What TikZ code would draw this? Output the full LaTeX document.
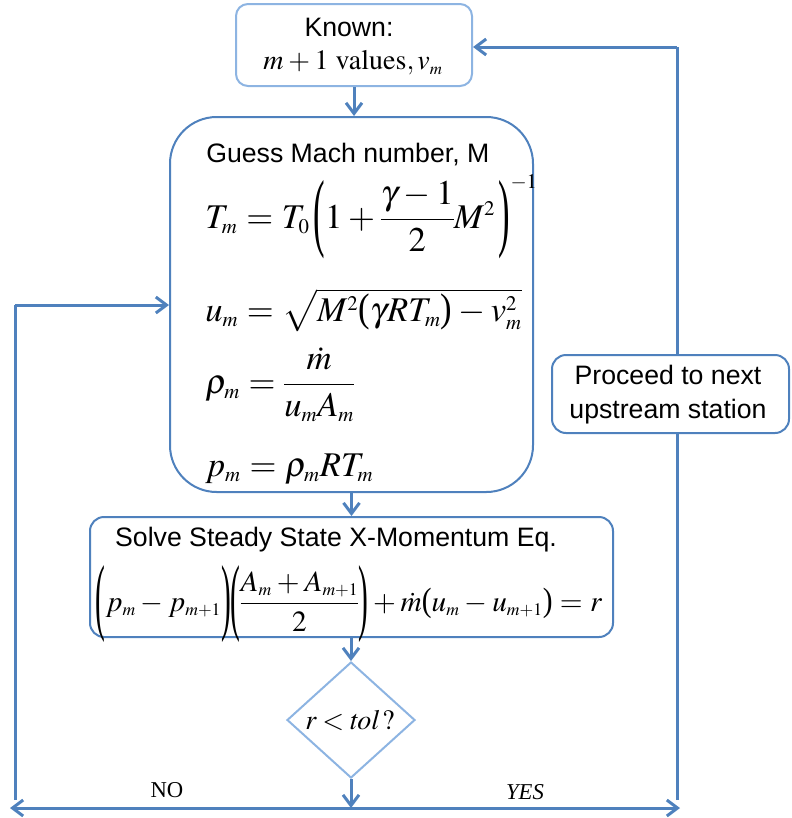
\documentclass[tikz,border=0pt]{standalone}
\usepackage{amsmath}
\usepackage{graphicx}
\usepackage{mathptmx}
\usepackage[no-math]{fontspec}
\setmainfont{Liberation Serif}
\newfontfamily\arial{Liberation Sans}
\DeclareMathSizes{26}{26}{15.6}{12}
\DeclareMathSizes{22}{22}{13.2}{10}
\DeclareMathSizes{21}{21}{12.6}{10}
\newcommand{\tightmath}{\thinmuskip=2mu\relax\medmuskip=3mu\relax\thickmuskip=4.5mu\relax\nulldelimiterspace=0pt\relax}
\newcommand{\lp}[1]{\mathopen{\vcenter{\hbox{\scalebox{1}[#1]{(}}}}}
\newcommand{\rp}[1]{\mathclose{\vcenter{\hbox{\scalebox{1}[#1]{)}}}}}
\usetikzlibrary{arrows.meta,shapes.geometric}
\definecolor{lineblue}{RGB}{79,129,189}
\definecolor{lightblue}{RGB}{141,180,226}
\begin{document}
\begin{tikzpicture}[x=0.75pt,y=-0.75pt,
  box/.style={draw=lineblue, line width=1.5pt, fill=white, inner sep=0pt},
  lbox/.style={draw=lightblue, line width=1.5pt, fill=white, inner sep=0pt},
  conn/.style={draw=lineblue, line width=2.25pt, -{Straight Barb[length=8pt,width=12pt]}},
  plainline/.style={draw=lineblue, line width=2.25pt},
  sans/.style={font=\arial\fontsize{20}{24}\selectfont, inner sep=0pt},
  eq/.style={font=\fontsize{26}{30}\selectfont\tightmath, inner sep=0pt},
  eqm/.style={font=\fontsize{22}{26}\selectfont\tightmath, inner sep=0pt},
  eqs/.style={font=\fontsize{21}{25}\selectfont\tightmath, inner sep=0pt},
  lbl/.style={font=\fontsize{17}{20}\selectfont, inner sep=0pt},
]
\useasboundingbox (0,0) rectangle (792,818);

% top box
\node[lbox, rounded corners=9pt, minimum width=177pt, minimum height=61.5pt] (known) at (354,45) {};
\node[sans] (knownt) at (349,27) {Known:};
\node[eqs] (knownm) at (353,63) {$m+1\ \mathrm{values}, v_m$};

% big box
\node[box, rounded corners=35pt, minimum width=272.25pt, minimum height=281.25pt] (big) at (351.5,304.5) {};
\node[sans, anchor=base west] (guess) at (206,162) {Guess Mach number, M};
\node[eq, anchor=base west] (teq) at (205,228) {$T_m = T_0\,\lp{2.5}1+\dfrac{\gamma-1}{2}M^2\,\rp{2.5}^{-1}$};
\node[eq, anchor=base west] (ueq) at (205,321) {$u_m = \sqrt{M^2\lp{1.15}\gamma R T_m\rp{1.15}-v_m^2}$};
\node[eq, anchor=base west] (req) at (205,393) {$\rho_m = \dfrac{\dot m}{u_m A_m}$};
\node[eq, anchor=base west] (peq) at (205,476) {$p_m = \rho_m R T_m$};

% solve box
\node[box, rounded corners=10.5pt, minimum width=392.25pt, minimum height=90pt] (solve) at (351.5,577) {};
\node[sans] (solvet) at (336,540) {Solve Steady State X-Momentum Eq.};
\node[eqm, anchor=base] (seq) at (349,611) {$\lp{2.9}p_m - p_{m+1}\rp{2.9}\lp{2.9}\dfrac{A_m+A_{m+1}}{2}\rp{2.9}+\dot m\lp{1.15}u_m-u_{m+1}\rp{1.15}=r$};

% decision
\node[lbox, diamond, minimum width=96pt, minimum height=87pt] (dia) at (351,720) {};
\node[eqs] (diat) at (350,720) {$\thickmuskip=3.5mu\relax r<\mathit{tol}\,?$};

% junction coordinates
\coordinate (j) at (351,808);
\coordinate (jl) at (10,808);
\coordinate (jr) at (680,808);
\coordinate (lb) at (15,800);
\coordinate (lt) at (15,305);
\coordinate (rb) at (677,800);
\coordinate (rt) at (677,47);

% connectors
\draw[conn] (known.south) -- (known.south |- big.north);
\draw[conn] (big.south) -- (big.south |- solve.north);
\draw[conn] (solve.south -| dia.north) -- (dia.north);
\draw[conn] (dia.south) -- (j);
\draw[conn] (j) -- (jl);
\draw[conn] (j) -- (jr);
\draw[plainline] (lb) -- (lt);
\draw[conn] (lt) -- (big.west |- lt);
\draw[plainline] (rb) -- (rt);
\draw[conn] (rt) -- (known.east |- rt);

% proceed box (over the return line)
\node[box, rounded corners=10.5pt, minimum width=177.75pt, minimum height=58.5pt] (proc) at (670.5,394) {};
\node[sans, align=center, font=\arial\fontsize{20}{25.5}\selectfont] (proct) at (668,395) {Proceed to next\\upstream station};

% labels
\node[lbl] (no) at (167,790) {NO};
\node[lbl] (yes) at (525,792) {\itshape YES};
\end{tikzpicture}
\end{document}
